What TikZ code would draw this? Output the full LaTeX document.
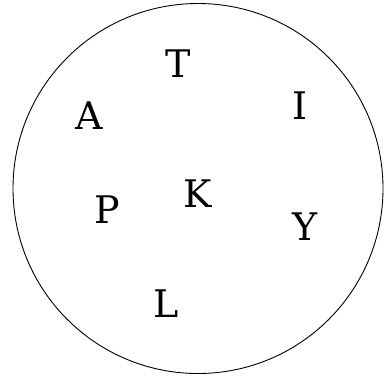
\documentclass[tikz,border=0pt]{standalone}
\usepackage{fontspec}
\setmainfont{DejaVu Serif}
\begin{document}
\begin{tikzpicture}[x=1pt,y=-1pt,
  letter/.style={inner sep=0pt,font=\fontsize{38}{40}\selectfont}]
\useasboundingbox (0,0) rectangle (387,376);
\node[draw,circle,minimum size=370pt,inner sep=0pt,line width=0.9pt] (c) at (198,188.5) {};
\node[letter] (T) at (178,64) {T};
\node[letter] (A) at (89,115.5) {A};
\node[letter] (I) at (300,106) {I};
\node[letter] (K) at (197.5,193.5) {K};
\node[letter] (P) at (107,210) {P};
\node[letter] (Y) at (305,227) {Y};
\node[letter] (L) at (166,304) {L};
\end{tikzpicture}
\end{document}
